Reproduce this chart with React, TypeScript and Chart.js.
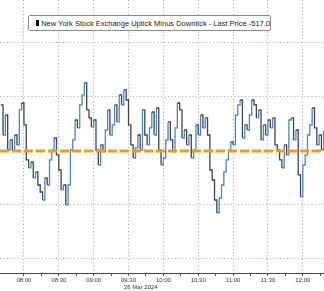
import React, { useEffect, useRef } from "react";
import { Chart, registerables } from "chart.js";

Chart.register(...registerables);

// minutes after midnight of the first sample, step between samples (minutes)
const START_MIN = 460;
const STEP_MIN = 2;

// NYSE TICK values (2-minute samples from 07:40)
const tickValues = [
  426, 148, 333, 9, 102, 9, 148, 56, 380, 444, 241,
  -83, -157, -102, -250, -194, -315, -380, -454, -250, -315,
  -83, 9, 120, -37, -176, -361, -315, -500, -315, 9,
  102, 287, 213, 426, 519, 630, 380, 306, 222, 287,
  9, -130, 56, -9, 194, 380, 148, 241, 426, 269,
  519, 426, 565, 472, 241, 56, -65, 28, 148, 9,
  380, 148, 56, 213, 361, 148, 398, 9, -130, -65,
  102, 269, 102, -9, 213, 444, 380, 120, 194, 56,
  148, -65, 9, 241, 148, 333, 213, 306, 148, -176,
  -269, -454, -574, -435, -315, -194, -83, 9, 83, 56,
  333, 426, 472, 120, 241, 194, 333, 472, 426, 306,
  380, 102, 241, 148, 287, 213, 306, 56, 9, -83,
  -157, 56, -37, 287, 306, 102, 194, -222, -426, -130,
  -37, 148, 241, 398, 213, 56, 148, 9, 194,
];

const referenceLevel = 0;
const xTickMinutes = [480, 495, 510, 525, 540, 555, 570, 585, 600, 615, 630, 645, 660, 675, 690, 705, 720, 735];
const yGridValues = [-1000, -500, 0, 500, 1000];
const legendText = "New York Stock Exchange Uptick Minus Downtick - Last Price -517.0";
const dateLabel = "26 Mar 2024";

const X_MIN = 459.4;
const X_MAX = 738.2;
const Y_MIN = -1130;
const Y_MAX = 1398;

const UP_COLOR = "#4f84bd";
const DOWN_COLOR = "#3c4650";
const GRID_COLOR = "#a8a8a8";

function fmt(m: number) {
  const h = Math.floor(m / 60);
  const mm = m % 60;
  return String(h).padStart(2, "0") + ":" + String(mm).padStart(2, "0");
}

export default function App() {
  const ref = useRef<HTMLCanvasElement>(null);
  useEffect(() => {
    if (!ref.current) return;
    const points = tickValues.map((v, i) => ({ x: START_MIN + i * STEP_MIN, y: v }));
    const datePlugin = {
      id: "dateLabel",
      afterDraw(chart: any) {
        const ctx = chart.ctx;
        const xs = chart.scales.x;
        ctx.save();
        ctx.font = "6px 'Liberation Sans'";
        ctx.fillStyle = "#333";
        ctx.textAlign = "center";
        ctx.textBaseline = "middle";
        ctx.fillText(dateLabel, xs.getPixelForValue(580.6), 287);
        ctx.restore();
      },
    };
    const chart = new Chart(ref.current, {
      type: "line",
      data: {
        datasets: [
          {
            data: [
              { x: X_MIN, y: referenceLevel },
              { x: X_MAX, y: referenceLevel },
            ],
            borderColor: "#f0992b",
            borderWidth: 3,
            borderDash: [9, 3],
            pointRadius: 0,
            order: 0,
          },
          {
            data: points,
            borderColor: UP_COLOR,
            borderWidth: 1.3,
            pointRadius: 0,
            stepped: true,
            order: 1,
            segment: {
              borderColor: (ctx: any) => (ctx.p1.parsed.y >= ctx.p0.parsed.y ? UP_COLOR : DOWN_COLOR),
            },
          },
        ],
      },
      options: {
        animation: false,
        responsive: false,
        maintainAspectRatio: false,
        layout: { padding: 0 },
        plugins: { legend: { display: false }, tooltip: { enabled: false } },
        scales: {
          x: {
            type: "linear",
            min: X_MIN,
            max: X_MAX,
            afterBuildTicks(scale: any) {
              scale.ticks = xTickMinutes.map((v) => ({ value: v }));
            },
            afterFit(scale: any) {
              scale.height = 18;
            },
            ticks: {
              autoSkip: false,
              maxRotation: 0,
              padding: 1,
              color: "#333",
              font: { family: "'Liberation Sans'", size: 6 },
              callback: (v: any) => (Number(v) % 30 === 0 ? fmt(Number(v)) : ""),
            },
            grid: {
              color: (c: any) => (c.tick && c.tick.value % 30 === 0 ? GRID_COLOR : "rgba(0,0,0,0)"),
              tickColor: "#555",
              tickLength: 3,
              tickBorderDash: [],
              borderDash: [1, 2.5],
              lineWidth: 1,
            } as any,
            border: { display: true, color: "#444", width: 1, dash: [1, 2.5] },
          },
          y: {
            min: Y_MIN,
            max: Y_MAX,
            afterBuildTicks(scale: any) {
              scale.ticks = yGridValues.map((v) => ({ value: v }));
            },
            afterFit(scale: any) {
              scale.width = 0;
            },
            ticks: { display: false },
            grid: { color: GRID_COLOR, drawTicks: false, lineWidth: 1, borderDash: [1, 2.5] } as any,
            border: { display: false, dash: [1, 2.5] },
          },
        },
      },
      plugins: [datePlugin],
    });
    return () => chart.destroy();
  }, []);

  return (
    <div style={{ position: "fixed", left: 0, top: 0, width: 324, height: 291, background: "#fff" }}>
      <canvas ref={ref} width={324} height={291} style={{ width: 324, height: 291, display: "block" }} />
      <div
        style={{
          position: "absolute",
          left: 28,
          top: 15,
          width: 241,
          height: 14,
          border: "1px solid #8a8a8a",
          borderRadius: 2,
          background: "#fff",
          display: "flex",
          alignItems: "center",
          fontFamily: "'Liberation Sans', sans-serif",
          fontSize: 7.5,
          color: "#222",
          whiteSpace: "nowrap",
          overflow: "hidden",
        }}
      >
        <span style={{ display: "inline-block", width: 3, height: 3, background: "#c8c8c8", marginLeft: 4, marginRight: 2 }} />
        <span style={{ display: "inline-block", width: 6, height: 6, background: "#000", marginRight: 2 }} />
        <span>{legendText}</span>
      </div>
    </div>
  );
}
